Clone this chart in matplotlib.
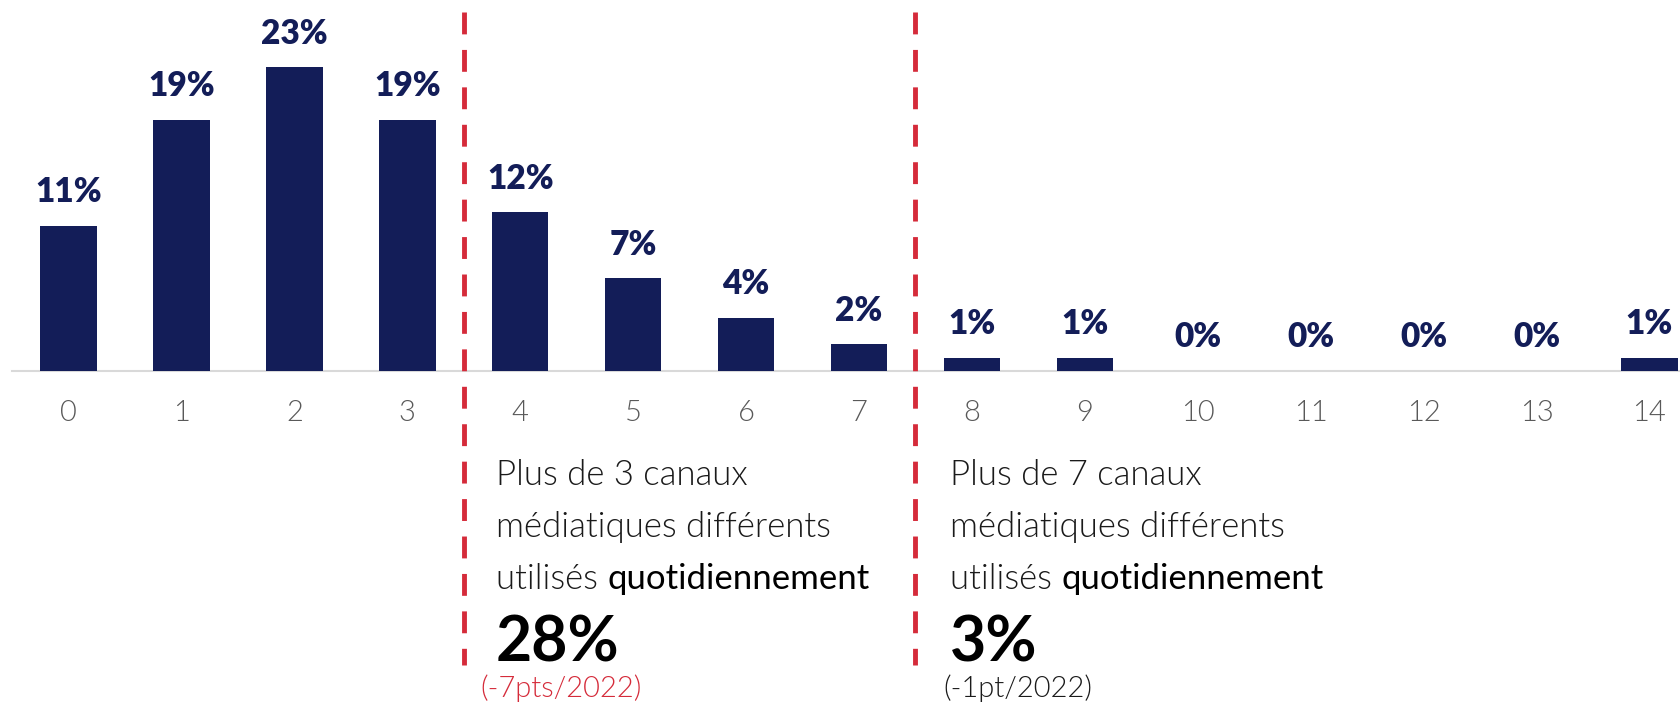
import matplotlib.pyplot as plt

# données
nb_canaux = list(range(15))
pourcentages = [11, 19, 23, 19, 12, 7, 4, 2, 1, 1, 0, 0, 0, 0, 1]
etiquettes = [f"{v}%" for v in pourcentages]

texte_gauche = ["Plus de 3 canaux", "médiatiques différents", "utilisés "]
total_gauche = "28%"
evol_gauche = "(-7pts/2022)"
texte_droite = ["Plus de 7 canaux", "médiatiques différents", "utilisés "]
total_droite = "3%"
evol_droite = "(-1pt/2022)"

navy = "#131d58"
rouge = "#d52b3a"
gris = "#595959"
police = ["Lato", "DejaVu Sans"]

fig = plt.figure(figsize=(16.81, 7.10), dpi=100)
ax = fig.add_axes([0, 0, 1, 1])
ax.set_xlim(-0.607, 14.28)
ax.set_ylim(-25.7, 28.1)
ax.axis("off")

ax.bar(nb_canaux, pourcentages, width=0.5, color=navy, zorder=2)
ax.plot([-0.5, 14.3], [0, 0], color="#d9d9d9", lw=1.5, zorder=1)

for x, v, lab in zip(nb_canaux, pourcentages, etiquettes):
    ax.annotate(lab, (x, v), xytext=(0, 17), textcoords="offset points",
                ha="center", va="baseline", fontsize=24, fontweight="heavy",
                color=navy, family=police)
    ax.text(x, -3.2, str(x), ha="center", va="center", fontsize=21,
            fontweight=300, color=gris, family=police)

# lignes rouges pointillées
for xs in (3.5, 7.5):
    ax.plot([xs, xs], [27.2, -22.3], color=rouge, lw=3.5,
            dashes=(4.5, 3.2), zorder=3)


def bloc(x_pix, lignes, total, evol, couleur_evol, x_evol):
    y0 = 1 - 475 / 710
    pas = 52 / 710
    for i, ligne in enumerate(lignes):
        t = fig.text(x_pix / 1681, y0 - i * pas, ligne, ha="left", va="center",
                     fontsize=25, fontweight=300, color="#1a1a1a",
                     family=police)
    ax.annotate("quotidiennement", xy=(1, 0), xycoords=t, ha="left",
                va="bottom", fontsize=25, fontweight="normal", color="black",
                family=police)
    fig.text(x_pix / 1681, 1 - 643 / 710, total, ha="left", va="center",
             fontsize=45, fontweight="bold", color="black", family=police)
    fig.text(x_evol / 1681, 1 - 688 / 710, evol, ha="left", va="center",
             fontsize=21, fontweight=300, color=couleur_evol, family=police)


bloc(496, texte_gauche, total_gauche, evol_gauche, rouge, 480)
bloc(950, texte_droite, total_droite, evol_droite, "#1a1a1a", 943)

fig.savefig("out.png", dpi=100)
